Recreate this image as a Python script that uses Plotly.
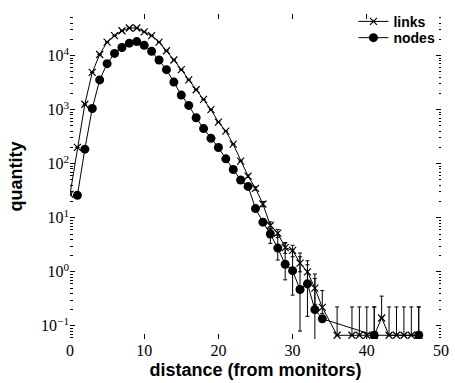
import plotly.graph_objects as go

# ---- data ----
links_d = [0, 1, 2, 3, 4, 5, 6, 7, 8, 9, 10, 11, 12, 13, 14, 15, 16, 17, 18, 19,
           20, 21, 22, 23, 24, 25, 26, 27, 28, 29, 30, 31, 32, 33, 34,
           36, 38, 39, 40, 41, 42, 43, 44, 45, 46, 47]
links_q = [27, 200, 1260, 4900, 10500, 17800, 23400, 28800, 32400, 32400, 27500,
           23400, 17800, 12300, 8300, 5500, 3550, 2340, 1550, 1000,
           590, 400, 230, 112, 59, 35, 18, 7.2, 5.2, 2.8, 2.5, 1.45, 1.0, 0.50, 0.22,
           0.067, 0.067, 0.067, 0.067, 0.067, 0.14, 0.067, 0.067, 0.067, 0.067, 0.067]
links_err_up = [0, 0, 0, 0, 0, 0, 0, 0, 0, 0, 0, 0, 0, 0, 0, 0, 0, 0, 0, 0,
                0, 0, 0, 0, 3, 2.5, 2, 1.2, 0.9, 0.6, 0.6, 0.45, 0.35, 0.25, 0.23,
                0.157, 0.157, 0.157, 0.157, 0.157, 0.215, 0.157, 0.157, 0.157, 0.157, 0.157]
links_err_dn = [0, 0, 0, 0, 0, 0, 0, 0, 0, 0, 0, 0, 0, 0, 0, 0, 0, 0, 0, 0,
                0, 0, 0, 0, 3, 2.5, 2, 1.2, 0.9, 0.6, 0.6, 0.45, 0.35, 0.25, 0.05,
                0, 0, 0, 0.012, 0, 0, 0, 0, 0, 0, 0]

nodes_d = [1, 2, 3, 4, 5, 6, 7, 8, 9, 10, 11, 12, 13, 14, 15, 16, 17, 18, 19, 20,
           21, 22, 23, 24, 25, 26, 27, 28, 29, 30, 31, 32, 33, 34, 41, 47]
nodes_q = [26, 186, 1050, 3550, 7100, 11000, 14100, 17000, 18200, 15500, 12000,
           8300, 5500, 3240, 1860, 1200, 710, 447, 295, 200,
           123, 78, 50, 38, 14.8, 8.3, 5.0, 2.75, 1.38, 1.05, 0.47, 0.60, 0.20, 0.135,
           0.067, 0.067]
nodes_err_up = [0, 0, 0, 0, 0, 0, 0, 0, 0, 0, 0, 0, 0, 0, 0, 0, 0, 0, 0, 0,
                0, 0, 0, 0, 0, 0, 1.3, 2.0, 2.1, 1.5, 1.76, 1.0, 0.71, 0, 0.157, 0.157]
nodes_err_dn = [0, 0, 0, 0, 0, 0, 0, 0, 0, 0, 0, 0, 0, 0, 0, 0, 0, 0, 0, 0,
                0, 0, 0, 0, 0, 0, 1.64, 1.1, 0.67, 0.68, 0.39, 0.45, 0.19, 0, 0, 0]

y_tickvals = [0.1, 1, 10, 100, 1000, 10000]
y_ticktext = ["10<sup>−1</sup>", "10<sup>0</sup>", "10<sup>1</sup>",
              "10<sup>2</sup>", "10<sup>3</sup>", "10<sup>4</sup>"]
x_tickvals = [0, 10, 20, 30, 40, 50]

fig = go.Figure()
fig.add_trace(go.Scatter(
    x=links_d, y=links_q, name="<b>links</b>", mode="lines+markers",
    line=dict(color="black", width=1),
    marker=dict(symbol="x-thin", size=7, color="black",
                line=dict(color="black", width=1.2)),
    error_y=dict(type="data", symmetric=False, array=links_err_up,
                 arrayminus=links_err_dn, color="black", thickness=1, width=2),
    legend="legend",
))
fig.add_trace(go.Scatter(
    x=nodes_d, y=nodes_q, name="<b>nodes</b>", mode="lines+markers",
    line=dict(color="black", width=1),
    marker=dict(symbol="circle", size=9, color="black"),
    error_y=dict(type="data", symmetric=False, array=nodes_err_up,
                 arrayminus=nodes_err_dn, color="black", thickness=1, width=2),
    legend="legend2",
))

serif = "Liberation Serif"
sans = "Liberation Sans"
legfont = dict(family=sans, size=14, color="black")

fig.update_layout(
    width=455, height=383,
    margin=dict(l=70, r=8, t=6, b=43),
    paper_bgcolor="white", plot_bgcolor="white",
    showlegend=True,
    legend=dict(x=0.764, y=0.976, xanchor="left", yanchor="middle",
                bgcolor="rgba(0,0,0,0)", font=legfont, itemwidth=30),
    legend2=dict(x=0.764, y=0.926, xanchor="left", yanchor="middle",
                 bgcolor="rgba(0,0,0,0)", font=legfont, itemwidth=30),
    xaxis=dict(
        range=[0, 50], tickvals=x_tickvals, ticks="inside", ticklen=5,
        tickcolor="black", mirror="ticks", showline=False, showgrid=False,
        zeroline=False,
        tickfont=dict(family=serif, size=16, color="black"),
        title=dict(text="<b>distance (from monitors)</b>", standoff=5,
                   font=dict(family=sans, size=18, color="black")),
    ),
    yaxis=dict(
        type="log", range=[-1.243, 4.77], tickvals=y_tickvals, ticktext=y_ticktext,
        ticks="inside", ticklen=5, tickcolor="black", mirror="ticks",
        showline=False, showgrid=False, zeroline=False,
        minor=dict(ticks="inside", ticklen=2.5, tickcolor="black", showgrid=False,
                   dtick="D1"),
        tickfont=dict(family=serif, size=16, color="black"),
        title=dict(text="<b>quantity</b>", standoff=13,
                   font=dict(family=sans, size=18, color="black")),
    ),
)

fig.write_html("out.html")
